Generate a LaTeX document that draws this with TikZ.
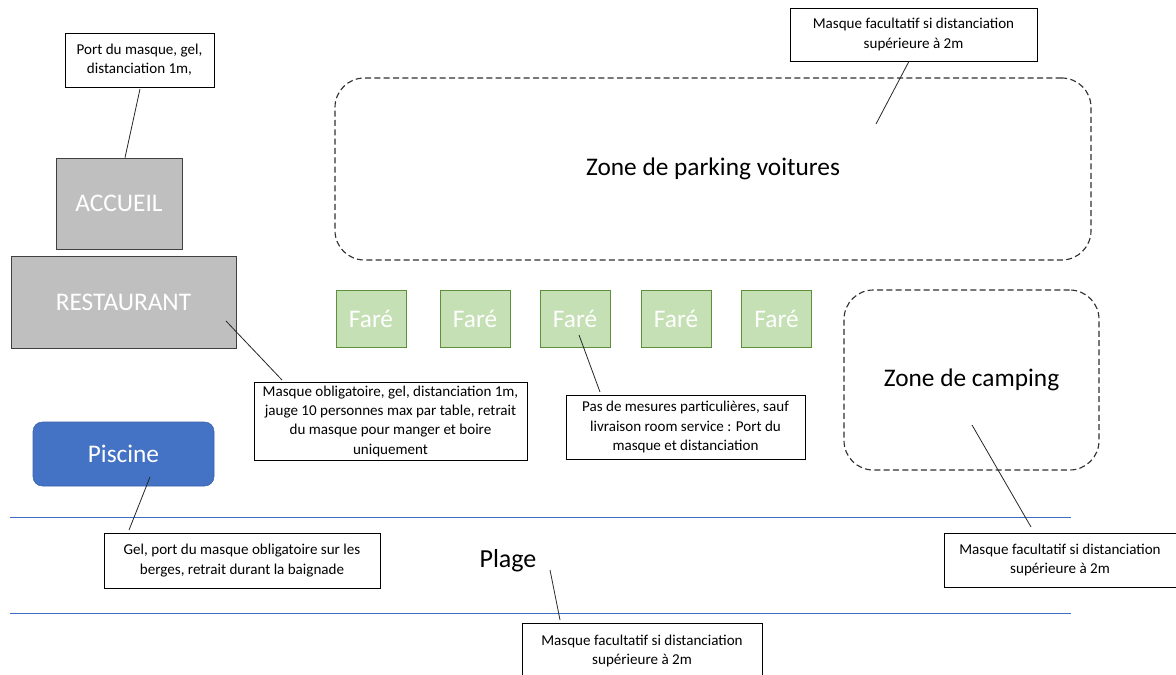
\documentclass[tikz,border=0pt]{standalone}
\usepackage{fontspec}
\setmainfont{Carlito}
\definecolor{grayfill}{HTML}{BFBFBF}
\definecolor{grayline}{HTML}{404040}
\definecolor{dashline}{HTML}{303030}
\definecolor{farefill}{HTML}{C5E0B4}
\definecolor{fareline}{HTML}{5E8F3A}
\definecolor{poolfill}{HTML}{4472C4}
\definecolor{poolline}{HTML}{3A62AA}
\definecolor{shore}{HTML}{3F6FC4}
\begin{document}
\begin{tikzpicture}[x=0.75pt,y=-0.75pt,
  building/.style={draw=grayline,fill=grayfill,text=white,inner sep=0pt,font=\fontsize{19}{22}\selectfont},
  farebox/.style={draw=fareline,fill=farefill,text=white,minimum width=52.5pt,minimum height=42.75pt,inner sep=0pt,font=\fontsize{19}{22}\selectfont},
  zone/.style={draw=dashline,dash pattern=on 4.5pt off 2.5pt,line width=0.85pt,rounded corners=22pt,inner sep=0pt,font=\fontsize{19}{22}\selectfont},
  callout/.style={draw=black,fill=white,inner sep=0pt,align=center,font=\fontsize{11.3}{14.5}\selectfont},
  link/.style={draw=black!85,line width=0.6pt},
  shoreline/.style={draw=shore,line width=0.75pt}]
\useasboundingbox (0,0) rectangle (1176,674);
\begin{scope}
\clip (0,0) rectangle (1176,674);
% shorelines
\coordinate (s1a) at (10,517); \coordinate (s1b) at (1071,517);
\coordinate (s2a) at (10,613); \coordinate (s2b) at (1071,613);
\draw[shoreline] (s1a) -- (s1b);
\draw[shoreline] (s2a) -- (s2b);
% zones
\node[zone,minimum width=567pt,minimum height=136.5pt] (parking) at (713,169) {Zone de parking voitures};
\node[zone,minimum width=191.25pt,minimum height=135pt] (camping) at (971.5,380) {Zone de camping};
% buildings
\node[building,minimum width=94.5pt,minimum height=68.25pt] (accueil) at (119,203.5) {ACCUEIL};
\node[building,minimum width=168.75pt,minimum height=69pt] (resto) at (123.5,302) {RESTAURANT};
\node[draw=poolline,fill=poolfill,text=white,rounded corners=7pt,minimum width=135.75pt,minimum height=48pt,inner sep=0pt,font=\fontsize{19}{22}\selectfont] (piscine) at (123.5,454) {Piscine};
% fares
\node[farebox] (f1) at (371,318.5) {Faré};
\node[farebox] (f2) at (475,318.5) {Faré};
\node[farebox] (f3) at (575,318.5) {Faré};
\node[farebox] (f4) at (676,318.5) {Faré};
\node[farebox] (f5) at (776.5,318.5) {Faré};
% plage
\node[font=\fontsize{19.5}{22}\selectfont,inner sep=0pt] (plage) at (508,561) {Plage};
% callouts
\node[callout,minimum width=111.75pt,minimum height=40.5pt] (cA) at (139.5,60) {Port du masque, gel,\\distanciation 1m,};
\node[callout,minimum width=204.75pt,minimum height=58.5pt] (cR) at (390.5,421) {Masque obligatoire, gel, distanciation 1m,\\jauge 10 personnes max par table, retrait\\du masque pour manger et boire\\uniquement};
\node[callout,minimum width=179.25pt,minimum height=48pt] (cF) at (685.5,427) {Pas de mesures particulières, sauf\\livraison room service : Port du\\masque et distanciation};
\node[callout,minimum width=207pt,minimum height=41.25pt] (cP) at (242,560.5) {Gel, port du masque obligatoire sur les\\berges, retrait durant la baignade};
\node[callout,minimum width=185.25pt,minimum height=39.75pt] (cT) at (913.5,34.5) {Masque facultatif si distanciation\\supérieure à 2m};
\node[callout,minimum width=174pt,minimum height=40.5pt] (cC) at (1060,560) {Masque facultatif si distanciation\\supérieure à 2m};
\node[callout,minimum width=180pt,minimum height=60pt,anchor=north] (cB) at (642,623) {};
\node[font=\fontsize{11.3}{14.5}\selectfont,align=center,inner sep=0pt] (cBt) at (642,651) {Masque facultatif si distanciation\\supérieure à 2m};
% connectors
\coordinate (pA) at (140,89);
\coordinate (pR) at (226,321);
\coordinate (pF) at (579,335);
\coordinate (pP) at (150,477);
\coordinate (pT) at (876,124);
\coordinate (pC) at (972,425);
\coordinate (pB) at (550,570);
\draw[link] (accueil.north -| 125,0) -- (pA);
\draw[link] (pR) -- (282,380);
\draw[link] (pF) -- (600,392);
\draw[link] (pP) -- (129,530);
\draw[link] (cT.south -| 909,0) -- (pT);
\draw[link] (pC) -- (1031,527);
\draw[link] (pB) -- (560,620);
\end{scope}
\end{tikzpicture}
\end{document}
